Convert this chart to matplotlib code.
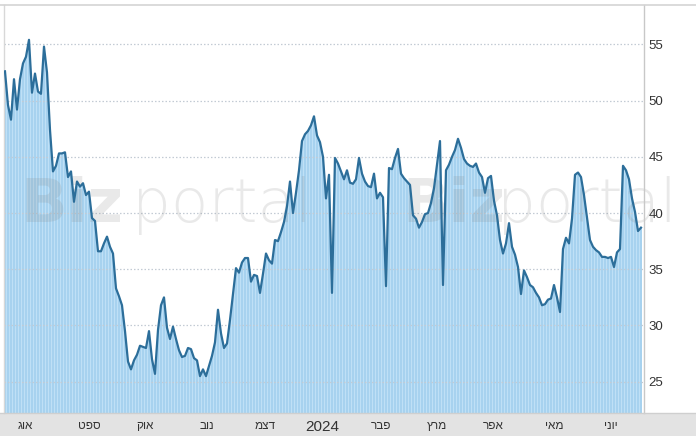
import matplotlib
matplotlib.use('Agg')
import matplotlib.pyplot as plt
import numpy as np
from matplotlib.lines import Line2D
from matplotlib.patches import Rectangle

# ---- data (one value per trading day) ----
values = [
    52.6, 49.6, 48.3, 51.9, 49.2, 51.9, 53.3, 53.9, 55.4, 50.7,
    52.4, 50.8, 50.6, 54.8, 52.5, 47.4, 43.7, 44.2, 45.3, 45.3,
    45.4, 43.2, 43.7, 41.0, 42.8, 42.35, 42.65, 41.6, 41.9, 39.55,
    39.3, 36.6, 36.6, 37.3, 37.9, 37.0, 36.4, 33.3, 32.6, 31.8,
    29.5, 26.8, 26.1, 26.9, 27.4, 28.2, 28.1, 28.0, 29.5, 27.0,
    25.7, 29.6, 31.8, 32.5, 29.8, 28.8, 29.9, 28.8, 27.8, 27.2,
    27.3, 28.0, 27.9, 27.1, 26.9, 25.5, 26.1, 25.5, 26.4, 27.3,
    28.5, 31.4, 29.3, 28.0, 28.4, 30.5, 32.8, 35.1, 34.7, 35.6,
    36.0, 36.0, 33.9, 34.5, 34.4, 32.9, 34.6, 36.4, 35.8, 35.5,
    37.6, 37.5, 38.3, 39.2, 40.6, 42.8, 40.0, 41.8, 43.8, 46.4,
    47.0, 47.3, 47.8, 48.6, 46.9, 46.3, 45.0, 41.3, 43.4, 32.9,
    44.9, 44.4, 43.7, 43.0, 43.8, 42.7, 42.6, 43.0, 44.9, 43.5,
    42.8, 42.4, 42.3, 43.5, 41.3, 41.8, 41.4, 33.5, 44.0, 43.9,
    44.9, 45.7, 43.5, 43.1, 42.8, 42.5, 39.8, 39.5, 38.7, 39.2,
    39.9, 40.0, 40.9, 42.2, 44.3, 46.4, 33.6, 43.8, 44.3, 45.0,
    45.6, 46.6, 45.8, 44.8, 44.4, 44.2, 44.1, 44.4, 43.6, 43.2,
    41.8, 43.1, 43.3, 41.1, 39.8, 37.6, 36.4, 37.3, 39.1, 37.0,
    36.3, 35.2, 32.8, 34.9, 34.3, 33.6, 33.4, 32.9, 32.5, 31.8,
    31.9, 32.3, 32.4, 33.6, 32.5, 31.2, 36.8, 37.8, 37.3, 39.5,
    43.4, 43.6, 43.2, 41.6, 39.6, 37.6, 37.0, 36.7, 36.5, 36.1,
    36.1, 36.0, 36.1, 35.2, 36.5, 36.8, 44.2, 43.8, 43.0, 41.3,
    40.1, 38.4, 38.7,
]
month_labels = ["אוג", "ספט", "אוק", "נוב", "דצמ", "2024",
                "פבר", "מרץ", "אפר", "מאי", "יוני"]
month_pos = [6.7, 28.0, 46.7, 67.3, 86.7, 105.7, 125.3, 144.0, 162.7, 183.0, 202.0]
y_ticks = [25, 30, 35, 40, 45, 50, 55]

W, H = 696, 436
YMIN, YMAX = 22.22, 58.47

fig = plt.figure(figsize=(W / 100, H / 100), dpi=100)
fig.patch.set_facecolor('white')

# bottom grey band
fig.add_artist(Rectangle((0, 0), 1, 23 / H, transform=fig.transFigure,
                         facecolor='#e3e3e3', edgecolor='none', zorder=0))
fig.add_artist(Line2D([0, 1], [23 / H, 23 / H], transform=fig.transFigure,
                      color='#cfcfcf', lw=1, zorder=1))
# top border
fig.add_artist(Line2D([0, 1], [1 - 5.3 / H, 1 - 5.3 / H], transform=fig.transFigure,
                      color='#d4d4d4', lw=1.2, zorder=1))

ax = fig.add_axes([4 / W, 23 / H, (643.7 - 4) / W, (413 - 5.3) / H])
ax.set_facecolor('none')

x = np.arange(len(values))
v = np.array(values)

ax.fill_between(x, v, YMIN, color='#bfe0f6', lw=0, zorder=1)
ax.bar(x, v - YMIN, bottom=YMIN, width=0.62, color='#a7d2ef', lw=0, zorder=1.5)

for t in y_ticks:
    ax.axhline(t, color='#c3cbd4', lw=0.9, ls=(0, (1.2, 1.6)), zorder=2)

# watermark
wm_kw = dict(transform=fig.transFigure, color='#7f7f7f', alpha=0.17,
             va='baseline', ha='left', zorder=2.5, clip_on=False)
for bx, px in [(20, 132), (402, 497)]:
    ax.text(bx / W, (H - 222) / H, 'Biz', fontsize=44, fontweight='bold',
            family='DejaVu Sans', **wm_kw)
    ax.text(px / W, (H - 222) / H, 'portal', fontsize=44, fontweight='light',
            family='DejaVu Sans', **wm_kw)

ax.plot(x, v, color='#2c6e9a', lw=1.6, zorder=3, solid_joinstyle='round')

ax.set_xlim(-0.33, 212.9)
ax.set_ylim(YMIN, YMAX)

ax.yaxis.tick_right()
ax.set_yticks(y_ticks)
ax.set_yticklabels([str(t) for t in y_ticks], fontsize=9.5, color='#333333',
                   family=['Liberation Sans', 'DejaVu Sans'])
ax.tick_params(axis='y', length=0, pad=3.5)

ax.set_xticks(month_pos)
# matplotlib has no bidi support: reverse Hebrew strings so they read correctly
disp = [s if s.isdigit() else s[::-1] for s in month_labels]
ax.set_xticklabels(disp, color='#333333', family=['Liberation Sans', 'DejaVu Sans'])
for lab, s in zip(ax.get_xticklabels(), month_labels):
    lab.set_fontsize(11 if s.isdigit() else 8.5)
ax.tick_params(axis='x', length=0, pad=5)

for side in ['top', 'bottom']:
    ax.spines[side].set_visible(False)
ax.spines['left'].set_color('#d8d8d8')
ax.spines['right'].set_color('#c8c8c8')
ax.spines['left'].set_linewidth(1)
ax.spines['right'].set_linewidth(1)

fig.savefig('out.png', dpi=100)
